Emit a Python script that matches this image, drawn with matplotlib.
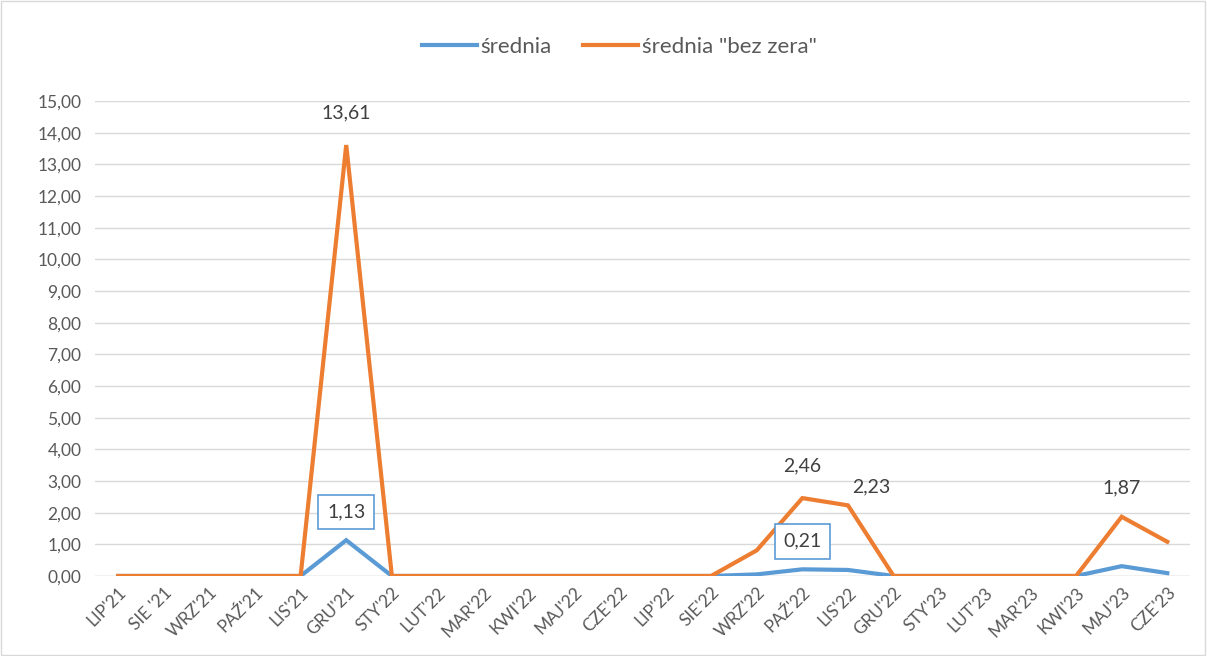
import matplotlib.pyplot as plt
from matplotlib.patches import Rectangle

plt.rcParams['font.family'] = ['Lato', 'DejaVu Sans']

months = ["LIP'21", "SIE '21", "WRZ'21", "PAŹ'21", "LIS'21", "GRU'21", "STY'22", "LUT'22",
          "MAR'22", "KWI'22", "MAJ'22", "CZE'22", "LIP'22", "SIE'22", "WRZ'22", "PAŹ'22",
          "LIS'22", "GRU'22", "STY'23", "LUT'23", "MAR'23", "KWI'23", "MAJ'23", "CZE'23"]
srednia = [0, 0, 0, 0, 0, 1.13, 0, 0, 0, 0, 0, 0, 0, 0, 0.05, 0.21, 0.19, 0, 0, 0, 0, 0, 0.31, 0.09]
srednia_bez_zera = [0, 0, 0, 0, 0, 13.61, 0, 0, 0, 0, 0, 0, 0, 0, 0.81, 2.46, 2.23, 0, 0, 0, 0, 0, 1.87, 1.08]

text_col = '#595959'
blue = '#5B9BD5'
orange = '#ED7D31'

fig = plt.figure(figsize=(12.07, 6.56), dpi=100)
ax = fig.add_axes([0.079, 0.122, 0.907, 0.724])
x = list(range(len(months)))

ax.plot(x, srednia, color=blue, lw=3, label='średnia', zorder=3, solid_joinstyle='miter')
ax.plot(x, srednia_bez_zera, color=orange, lw=3, label='średnia "bez zera"', zorder=4,
        solid_joinstyle='miter')

def fmt(v):
    return f'{v:.2f}'.replace('.', ',')

# labels for orange series
for i, dx, dy in [(5, 0, 17), (15, 0, 17), (16, 17, 7), (22, 0, 15)]:
    ax.annotate(fmt(srednia_bez_zera[i]), (i, srednia_bez_zera[i]), xytext=(dx, dy),
                textcoords='offset points', ha='center', va='bottom', fontsize=14, color='#404040')
# boxed labels for blue series
for i, dx, dy in [(5, 0, 14), (15, 0, 14)]:
    ax.annotate(fmt(srednia[i]), (i, srednia[i]), xytext=(dx, dy),
                textcoords='offset points', ha='center', va='bottom', fontsize=14, color='#404040',
                bbox=dict(boxstyle='square,pad=0.45', fc='white', ec=blue, lw=1.2), zorder=5)

ax.set_xlim(-0.5, len(months) - 0.5)
ax.set_ylim(0, 15)
ax.set_yticks(range(0, 16))
ax.set_yticklabels([fmt(v) for v in range(0, 16)])
ax.set_xticks(x)
ax.set_xticklabels(months, rotation=45, ha='right', rotation_mode='anchor')
ax.tick_params(axis='both', length=0, labelsize=12.5, labelcolor=text_col)
ax.tick_params(axis='x', pad=6)
ax.tick_params(axis='y', pad=10)
ax.grid(axis='y', color='#D9D9D9', lw=1)
ax.set_axisbelow(True)
for s in ax.spines.values():
    s.set_visible(False)
ax.axhline(0, color='#D9D9D9', lw=1, zorder=1)

h, l = ax.get_legend_handles_labels()
fig.legend(h, l, loc='center', bbox_to_anchor=(0.513, 0.928), ncol=2, frameon=False,
           fontsize=16, labelcolor=text_col, handlelength=2.5, handletextpad=0.15,
           columnspacing=1.4)

fig.patches.append(Rectangle((0.001, 0.001), 0.997, 0.997, transform=fig.transFigure,
                             fill=False, ec='#D9D9D9', lw=1))

plt.savefig('out.png', dpi=100)
